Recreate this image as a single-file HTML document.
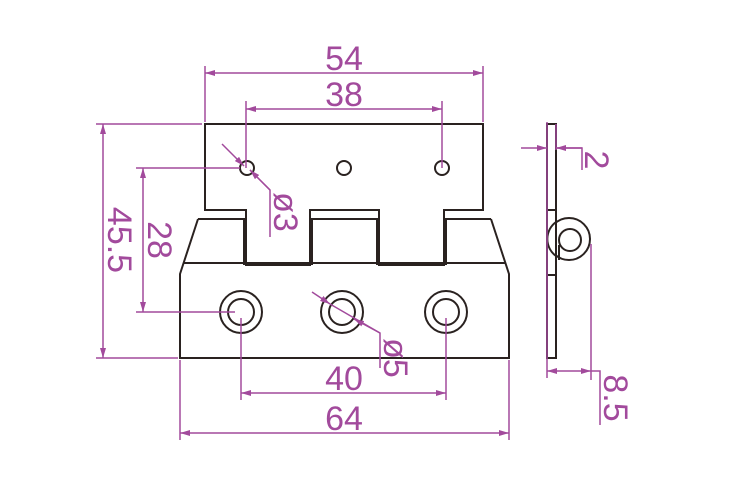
<!DOCTYPE html>
<html><head><style>
html,body{margin:0;padding:0;background:#fff;}
svg{display:block;}
text{font-family:"Liberation Sans",sans-serif;fill:#a24a9c;font-size:34px;}
</style></head><body>
<svg width="750" height="500" viewBox="0 0 750 500" xmlns="http://www.w3.org/2000/svg">
<defs>
<marker id="a" viewBox="0 0 10 6" refX="10" refY="3" markerWidth="10" markerHeight="6" orient="auto-start-reverse" markerUnits="userSpaceOnUse"><path d="M0,0 L10,3 L0,6 z" fill="#a24a9c"/></marker>
</defs>
<g fill="none" stroke="#2a2220" stroke-width="2">
<!-- top plate -->
<path d="M205,124 H483 V210 H444 V265 H379 V210 H310 V265 H246 V210 H205 Z"/>
<circle cx="247" cy="168" r="7"/><circle cx="344" cy="168" r="7"/><circle cx="442" cy="168" r="7"/>
<!-- bottom plate -->
<path d="M198,219 H246 M310,219 H379 M444,219 H491"/>
<path d="M198,219 L180,274 V358 H509 V274 L491,219"/>
<line x1="184" y1="263" x2="505" y2="263"/>
<path d="M244,219 V265 M312,219 V265 M377,219 V265 M446,219 V265"/>
<circle cx="241" cy="312" r="21"/><circle cx="241" cy="312" r="13"/>
<circle cx="342" cy="312" r="21"/><circle cx="342" cy="312" r="13"/>
<circle cx="446" cy="312" r="21"/><circle cx="446" cy="312" r="13"/>
<!-- side view -->
<circle cx="569" cy="239" r="21"/>
<rect x="547" y="124" width="9" height="234" fill="#fff"/>
<path d="M556,222 A21,21 0 0 0 556,256" />
<line x1="547" y1="210" x2="556" y2="210"/><line x1="547" y1="275" x2="556" y2="275"/>
<circle cx="570" cy="240" r="11"/>
<line x1="559" y1="245" x2="559" y2="260"/>
</g>
<g fill="none" stroke="#a24a9c" stroke-width="1.5">
<line x1="205" y1="66" x2="205" y2="122"/><line x1="483" y1="66" x2="483" y2="122"/>
<line x1="205" y1="73" x2="483" y2="73" marker-start="url(#a)" marker-end="url(#a)"/>
<line x1="246" y1="101" x2="246" y2="168"/><line x1="442" y1="101" x2="442" y2="168"/>
<line x1="246" y1="109" x2="442" y2="109" marker-start="url(#a)" marker-end="url(#a)"/>
<line x1="96" y1="124" x2="202" y2="124"/><line x1="96" y1="358" x2="178" y2="358"/>
<line x1="103" y1="124" x2="103" y2="358" marker-start="url(#a)" marker-end="url(#a)"/>
<line x1="136" y1="168" x2="240" y2="168"/><line x1="136" y1="312" x2="235" y2="312"/>
<line x1="143" y1="168" x2="143" y2="312" marker-start="url(#a)" marker-end="url(#a)"/>
<line x1="241" y1="318" x2="241" y2="400"/><line x1="446" y1="318" x2="446" y2="400"/>
<line x1="241" y1="393" x2="446" y2="393" marker-start="url(#a)" marker-end="url(#a)"/>
<line x1="180" y1="360" x2="180" y2="440"/><line x1="509" y1="360" x2="509" y2="440"/>
<line x1="180" y1="433" x2="509" y2="433" marker-start="url(#a)" marker-end="url(#a)"/>
<line x1="222" y1="144" x2="244" y2="166" marker-end="url(#a)"/>
<line x1="270" y1="190" x2="250" y2="170" marker-end="url(#a)"/>
<polyline points="250,170 270,190 270,237"/>
<line x1="312" y1="292" x2="330" y2="304" marker-end="url(#a)"/>
<line x1="380" y1="333" x2="354" y2="319" marker-end="url(#a)"/>
<polyline points="330,304 380,333 380,368"/>
<line x1="521" y1="148" x2="547" y2="148" marker-end="url(#a)"/>
<line x1="582" y1="148" x2="556" y2="148" marker-end="url(#a)"/>
<line x1="547" y1="122" x2="547" y2="378"/><line x1="556" y1="124" x2="556" y2="150"/>
<polyline points="556,148 582,148 582,170"/>
<line x1="591" y1="244" x2="591" y2="380"/>
<line x1="547" y1="371" x2="591" y2="371" marker-start="url(#a)" marker-end="url(#a)"/>
<polyline points="591,371 600,371 600,425"/>
</g>
<text x="344" y="70" text-anchor="middle">54</text>
<text x="344" y="106" text-anchor="middle">38</text>
<text x="344" y="390" text-anchor="middle">40</text>
<text x="344" y="430" text-anchor="middle">64</text>
<text transform="translate(108,240) rotate(90)" text-anchor="middle">45.5</text>
<text transform="translate(148,240) rotate(90)" text-anchor="middle">28</text>
<text transform="translate(274,212) rotate(90)" text-anchor="middle">ø3</text>
<text transform="translate(384,358) rotate(90)" text-anchor="middle">ø5</text>
<text transform="translate(585,160) rotate(90)" text-anchor="middle">2</text>
<text transform="translate(604,398) rotate(90)" text-anchor="middle">8.5</text>
</svg>
</body></html>
